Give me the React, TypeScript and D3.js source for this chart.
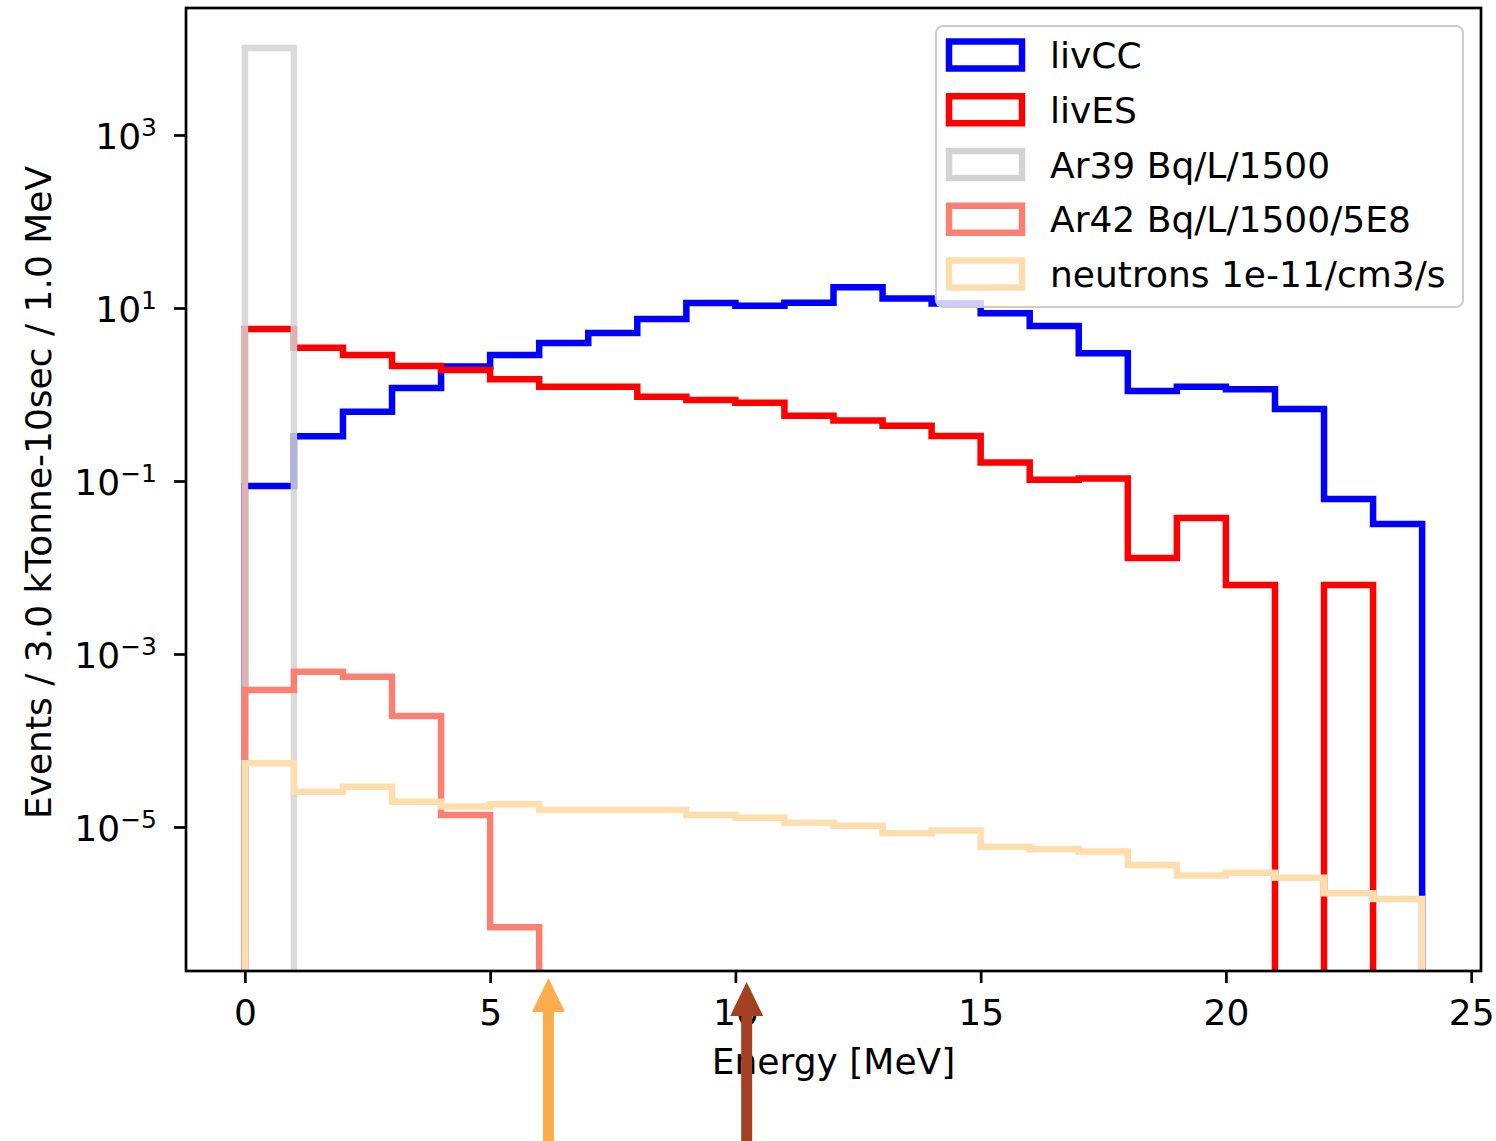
import React, { useEffect, useRef } from "react";
import * as d3 from "d3";

// bin edges in MeV (24 bins of 1 MeV)
const binEdges = [0, 1, 2, 3, 4, 5, 6, 7, 8, 9, 10, 11, 12, 13, 14, 15, 16, 17, 18, 19, 20, 21, 22, 23, 24];

// events per bin
const livCC = [0.0875, 0.33, 0.63, 1.19, 2.1, 2.86, 3.94, 5.14, 7.46, 11.4, 10.6, 11.5, 17.4, 12.9, 11.3, 8.69, 6.19, 3.0, 1.1, 1.23, 1.15, 0.68, 0.062, 0.0318];
const livES = [5.71, 3.47, 2.86, 2.13, 1.92, 1.5, 1.23, 1.23, 0.944, 0.863, 0.8, 0.569, 0.5, 0.436, 0.331, 0.164, 0.103, 0.107, 0.0129, 0.0373, 0.00628, 0, 0.00628, 0];
const ar39 = [10100, 0, 0, 0, 0, 0, 0, 0, 0, 0, 0, 0, 0, 0, 0, 0, 0, 0, 0, 0, 0, 0, 0, 0];
const ar42 = [3.84e-4, 6.24e-4, 5.47e-4, 1.92e-4, 1.38e-5, 6.92e-7, 0, 0, 0, 0, 0, 0, 0, 0, 0, 0, 0, 0, 0, 0, 0, 0, 0, 0];
const neutrons = [5.44e-5, 2.56e-5, 2.92e-5, 1.96e-5, 1.72e-5, 1.83e-5, 1.57e-5, 1.57e-5, 1.57e-5, 1.38e-5, 1.28e-5, 1.12e-5, 1.03e-5, 8.47e-6, 9.08e-6, 5.92e-6, 5.52e-6, 5.19e-6, 3.64e-6, 2.74e-6, 2.96e-6, 2.59e-6, 1.71e-6, 1.47e-6];

const seriesNames = ["livCC", "livES", "Ar39 Bq/L/1500", "Ar42 Bq/L/1500/5E8", "neutrons 1e-11/cm3/s"];
const seriesColors = ["#0000ff", "#ff0000", "#d3d3d3", "#fa8072", "#ffdead"];
const seriesOpacity = [1, 1, 0.85, 1, 1];

const xTicks = [0, 5, 10, 15, 20, 25];
const yTickExponents = [3, 1, -1, -3, -5];

// annotation arrows under the x axis
const arrowEnergies = [6.19, 10.23];
const arrowTips = [978, 982];
const arrowColors = ["#fdad4b", "#a3401f"];

const FONT = "DejaVu Sans";
const FS = 36;

const App = () => {
  const ref = useRef<SVGSVGElement>(null);

  useEffect(() => {
    const svg = d3.select(ref.current);
    svg.selectAll("*").remove();

    // plot box
    const plot = { left: 186, top: 8, right: 1481, bottom: 971 };

    const x = d3.scaleLinear().domain([-1.2, 25.2]).range([plot.left, plot.right]);
    const y = d3
      .scaleLog()
      .domain([Math.pow(10, -6.665), Math.pow(10, 4.468)])
      .range([plot.bottom, plot.top]);

    svg.append("rect").attr("width", 1496).attr("height", 1141).attr("fill", "#fff");

    svg
      .append("clipPath")
      .attr("id", "plotClip")
      .append("rect")
      .attr("x", plot.left)
      .attr("y", plot.top)
      .attr("width", plot.right - plot.left)
      .attr("height", plot.bottom - plot.top);

    // step histogram outline
    const below = plot.bottom + 20;
    const stepPath = (values: number[]) => {
      const pts: [number, number][] = [];
      const yv = (v: number) => (v > 0 ? y(v) : below);
      pts.push([x(binEdges[0]), below]);
      values.forEach((v, i) => {
        pts.push([x(binEdges[i]), yv(v)]);
        pts.push([x(binEdges[i + 1]), yv(v)]);
      });
      pts.push([x(binEdges[values.length]), below]);
      return d3.line()(pts);
    };

    const series = [livCC, livES, ar39, ar42, neutrons];
    const lines = svg.append("g").attr("clip-path", "url(#plotClip)");
    series.forEach((vals, i) => {
      lines
        .append("path")
        .attr("d", stepPath(vals))
        .attr("fill", "none")
        .attr("stroke", seriesColors[i])
        .attr("stroke-opacity", seriesOpacity[i])
        .attr("stroke-width", 6.5)
        .attr("stroke-linejoin", "miter");
    });

    // x axis
    const xAxis = svg
      .append("g")
      .attr("transform", `translate(0,${plot.bottom})`)
      .call(d3.axisBottom(x).tickValues(xTicks).tickSize(12).tickPadding(16).tickFormat(d3.format("d")));
    xAxis.select(".domain").remove();
    xAxis.selectAll("line").attr("stroke", "#000").attr("stroke-width", 2.7);
    xAxis
      .selectAll("text")
      .attr("font-family", FONT)
      .attr("font-size", FS)
      .attr("fill", "#000");

    // y axis (labels drawn separately for superscripts)
    const yAxis = svg
      .append("g")
      .attr("transform", `translate(${plot.left},0)`)
      .call(
        d3
          .axisLeft(y)
          .tickValues(yTickExponents.map((e) => Math.pow(10, e)))
          .tickSize(12)
          .tickFormat(() => "")
      );
    yAxis.select(".domain").remove();
    yAxis.selectAll("line").attr("stroke", "#000").attr("stroke-width", 2.7);

    yTickExponents.forEach((e) => {
      const t = svg
        .append("text")
        .attr("x", 157)
        .attr("y", y(Math.pow(10, e)) + 14)
        .attr("text-anchor", "end")
        .attr("font-family", FONT)
        .attr("font-size", FS)
        .attr("fill", "#000");
      t.append("tspan").text("10");
      t.append("tspan")
        .attr("font-size", 25)
        .attr("dy", -13)
        .text(e < 0 ? `\u2212${-e}` : `${e}`);
    });

    // frame
    svg
      .append("rect")
      .attr("x", plot.left)
      .attr("y", plot.top)
      .attr("width", plot.right - plot.left)
      .attr("height", plot.bottom - plot.top)
      .attr("fill", "none")
      .attr("stroke", "#000")
      .attr("stroke-width", 2.7);

    // axis labels
    svg
      .append("text")
      .attr("x", (plot.left + plot.right) / 2)
      .attr("y", 1074)
      .attr("text-anchor", "middle")
      .attr("font-family", FONT)
      .attr("font-size", FS)
      .attr("fill", "#000")
      .text("Energy [MeV]");

    svg
      .append("text")
      .attr("transform", `translate(51,${(plot.top + plot.bottom) / 2 + 3}) rotate(-90)`)
      .attr("text-anchor", "middle")
      .attr("font-family", FONT)
      .attr("font-size", FS)
      .attr("fill", "#000")
      .text("Events / 3.0 kTonne-10sec / 1.0 MeV");

    // legend
    const legend = svg.append("g");
    legend
      .append("rect")
      .attr("x", 936)
      .attr("y", 26)
      .attr("width", 527)
      .attr("height", 281)
      .attr("rx", 7)
      .attr("fill", "#fff")
      .attr("fill-opacity", 0.8)
      .attr("stroke", "#cccccc")
      .attr("stroke-width", 2);

    seriesNames.forEach((name, i) => {
      const cy = 55 + i * 54.75;
      legend
        .append("rect")
        .attr("x", 949)
        .attr("y", cy - 13.5)
        .attr("width", 73)
        .attr("height", 27)
        .attr("fill", "none")
        .attr("stroke", seriesColors[i])
        .attr("stroke-width", 6.5);
      legend
        .append("text")
        .attr("x", 1050)
        .attr("y", cy + 13)
        .attr("font-family", FONT)
        .attr("font-size", FS)
        .attr("fill", "#000")
        .text(name);
    });

    // arrows
    arrowEnergies.forEach((en, i) => {
      const cx = x(en);
      const tip = arrowTips[i];
      const headH = 34;
      const headW = 16.5;
      const shaftW = 5.5;
      const pts: [number, number][] = [
        [cx, tip],
        [cx + headW, tip + headH],
        [cx + shaftW, tip + headH],
        [cx + shaftW, 1141],
        [cx - shaftW, 1141],
        [cx - shaftW, tip + headH],
        [cx - headW, tip + headH],
      ];
      svg
        .append("path")
        .attr("d", d3.line()(pts) + "Z")
        .attr("fill", arrowColors[i]);
    });
  }, []);

  return (
    <svg
      ref={ref}
      width={1496}
      height={1141}
      style={{ position: "absolute", left: 0, top: 0, display: "block" }}
    />
  );
};

export default App;
